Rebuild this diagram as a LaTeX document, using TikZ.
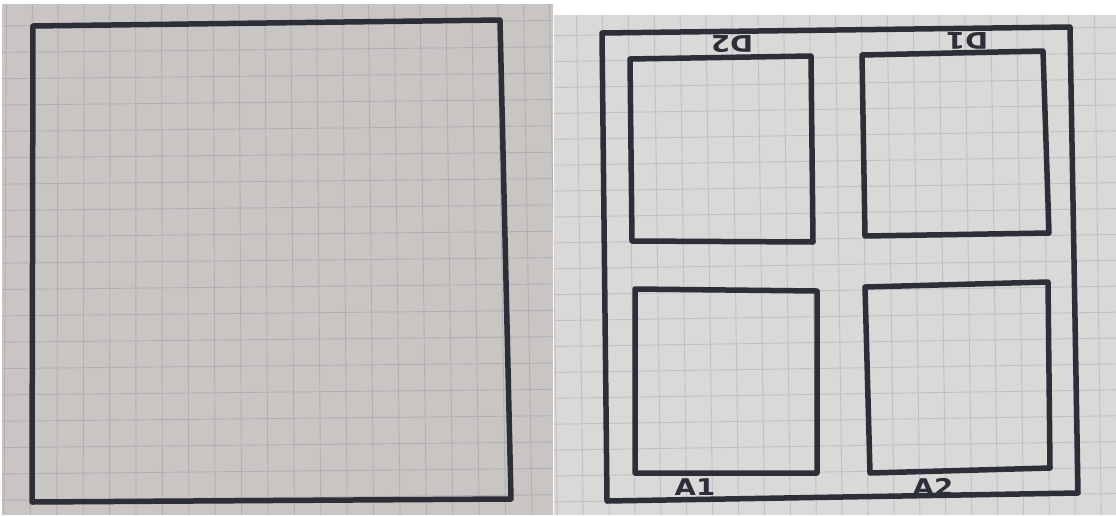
\documentclass[tikz,border=0pt]{standalone}
\usepackage{fontspec}
\newfontfamily\labelfont{DejaVu Sans}
\definecolor{paperL}{RGB}{201,197,195}
\definecolor{paperR}{RGB}{217,217,215}
\definecolor{gridL}{RGB}{176,175,182}
\definecolor{gridR}{RGB}{192,192,198}
\definecolor{ink}{RGB}{44,47,56}
\tikzset{
  pen/.style={draw=ink, line width=5.5pt, line join=round, line cap=round},
  gridlineL/.style={draw=gridL, line width=0.9pt},
  gridlineR/.style={draw=gridR, line width=0.9pt},
  lab/.style={text=ink, font=\labelfont\bfseries\fontsize{23}{23}\selectfont, inner sep=0pt, xscale=1.2}
}
\begin{document}
\begin{tikzpicture}[x=1pt,y=-1pt]
\useasboundingbox (0,0) rectangle (1116,515);
\fill[white] (0,0) rectangle (1116,515);
% left sheet
\fill[paperL] (2,4) rectangle (553,515);
\begin{scope}
  \clip (2,4) rectangle (553,515);
  \foreach \k in {0,...,21} {\draw[gridlineL] ({6.5+25.85*\k},4) -- ({4+26.4*\k},515);}
  \foreach \j in {0,...,19} {\draw[gridlineL] (2,{26+26.35*\j-0.02}) -- (553,{26+26.35*\j-5.53});}
\end{scope}
% right sheet
\fill[paperR] (554,15) rectangle (1116,515);
\begin{scope}
  \clip (554,15) rectangle (1116,515);
  \foreach \k in {-2,...,20} {\draw[gridlineR] ({603+25.9*\k-0.6},15) -- ({603+25.9*\k+6.1},515);}
  \foreach \j in {-1,...,19} {\draw[gridlineR] (554,{35+25.9*\j+0.69}) -- (1116,{35+25.9*\j-7.74});}
\end{scope}
% left big square
\draw[pen] (33,26) -- (500,20) -- (511,499) -- (32,502) -- cycle;
% right outer frame
\draw[pen] (602,33) -- (1070,27) -- (1078,493) -- (607,501) -- cycle;
% inner squares
\draw[pen] (630,59) -- (811,56) -- (813,242) -- (632,241) -- cycle;
\draw[pen] (862,55) -- (1043,51) -- (1049,233) -- (865,236) -- cycle;
\draw[pen] (635,289) -- (817,291) -- (817,473) -- (635,473) -- cycle;
\draw[pen] (865,287) -- (1048,282) -- (1050,468) -- (870,473) -- cycle;
% labels
\node[lab, rotate=180] (d2) at (732,44) {D2};
\node[lab, rotate=180] (d1) at (967,41) {D1};
\node[lab] (a1) at (695,487) {A1};
\node[lab] (a2) at (933,487) {A2};
\end{tikzpicture}
\end{document}
